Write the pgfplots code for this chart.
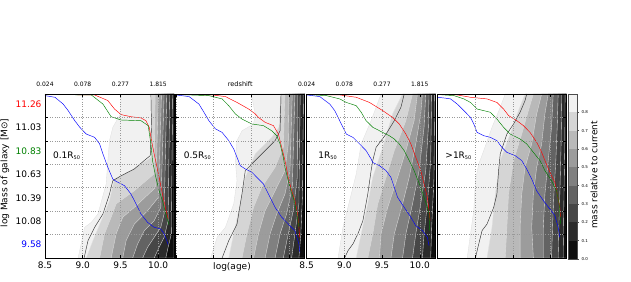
\documentclass[border=0pt]{standalone}
\usepackage{fontspec}
\setmainfont{DejaVu Sans}
\usepackage{pgfplots}
\pgfplotsset{compat=1.18}
\definecolor{g9}{gray}{0.945}
\definecolor{g8}{gray}{0.835}
\definecolor{g7}{gray}{0.725}
\definecolor{g6}{gray}{0.61}
\definecolor{g5}{gray}{0.50}
\definecolor{g4}{gray}{0.39}
\definecolor{g3}{gray}{0.28}
\definecolor{g2}{gray}{0.17}
\definecolor{g1}{gray}{0.055}
\definecolor{mplred}{rgb}{1,0,0}
\definecolor{mplgreen}{rgb}{0,0.5,0}
\definecolor{mplblue}{rgb}{0,0,1}
\pgfplotsset{
 panel/.style={
  scale only axis, width=129pt, height=164pt,
  xmin=8.5, xmax=10.21, ymin=0, ymax=7,
  axis on top, clip=false,
  xtick={8.5,9.0,9.5,10.0},
  ytick={1,2,3,4,5,6}, yticklabels={},
  grid=major,
  grid style={dotted, black!40, line width=0.5pt},
  tick align=inside, major tick length=3pt,
  tick style={black, line width=0.5pt},
  axis line style={line width=0.7pt},
  tick label style={font=\fontsize{9}{10}\selectfont},
  /pgf/number format/assume math mode=true,
 },
 band/.style={fill=#1, draw=black!12, line width=0.35pt},
 bk/.style={black!80, line width=0.45pt},
 rd/.style={mplred, line width=0.45pt},
 gr/.style={mplgreen, line width=0.45pt},
 bu/.style={mplblue, line width=0.45pt},
}
\newcommand{\toplab}{\fontsize{6}{7}\selectfont}
\newcommand{\plab}{\fontsize{9}{10}\selectfont}
\begin{document}
\begin{tikzpicture}
\useasboundingbox (0,0) rectangle (631pt,281pt);
% ---------------- Panel 1 ----------------
\begin{axis}[panel, at={(45pt,23pt)}, anchor=south west,
  xticklabels={8.5,9.0,9.5,10.0},
  extra y ticks={0.57,1.57,2.57,3.57,4.57,5.57,6.57},
  extra y tick labels={\textcolor{mplblue}{9.58},10.08,10.39,10.63,\textcolor{mplgreen}{10.83},11.03,\textcolor{mplred}{11.26}},
  extra y tick style={grid=none, major tick length=0pt}]
\addplot[band=g9] coordinates {(10.21,0) (8.939,0) (9.026,1.31) (9.114,1.52) (9.202,1.88) (9.311,3.16) (9.333,4.16) (9.355,5.01) (9.399,5.58) (9.5,6.15) (9.509,7) (10.21,7)} -- cycle;
\addplot[band=g8] coordinates {(10.21,0) (9.048,0) (9.136,0.74) (9.246,1.59) (9.355,2.45) (9.421,3.37) (9.640,3.73) (9.912,4.30) (9.912,7) (10.21,7)} -- cycle;
\addplot[band=g7] coordinates {(10.21,0) (9.224,0) (9.289,1.03) (9.377,1.74) (9.443,2.31) (9.684,2.87) (9.947,3.59) (9.961,7) (10.21,7)} -- cycle;
\addplot[band=g6] coordinates {(10.21,0) (9.377,0) (9.443,1.03) (9.531,1.74) (9.684,2.16) (9.969,3.02) (10.004,7) (10.21,7)} -- cycle;
\addplot[band=g5] coordinates {(10.21,0) (9.531,0) (9.575,0.74) (9.684,1.45) (9.860,2.02) (10.004,2.59) (10.044,7) (10.21,7)} -- cycle;
\addplot[band=g4] coordinates {(10.21,0) (9.662,0) (9.728,0.60) (9.816,1.17) (9.947,1.59) (10.035,2.16) (10.079,7) (10.21,7)} -- cycle;
\addplot[band=g3] coordinates {(10.21,0) (9.794,0) (9.860,0.46) (9.947,0.88) (10.035,1.31) (10.079,1.88) (10.114,7) (10.21,7)} -- cycle;
\addplot[band=g2] coordinates {(10.21,0) (9.947,0) (10.013,0.46) (10.079,0.88) (10.132,1.59) (10.154,7) (10.21,7)} -- cycle;
\addplot[band=g1] coordinates {(10.21,0) (10.101,0) (10.132,0.46) (10.175,1.03) (10.193,7) (10.21,7)} -- cycle;
\addplot[bk] coordinates {(9.018,0) (9.07,0.74) (9.158,1.31) (9.268,1.88) (9.355,2.73) (9.399,3.30) (9.509,3.51) (9.684,3.80) (9.816,4.16) (9.895,4.37) (9.912,5.58) (9.904,7)};
\addplot[bu] coordinates {(8.5,6.93) (8.632,6.86) (8.741,6.57) (8.807,6.29) (8.895,5.86) (8.961,5.58) (9.004,5.43) (9.048,5.29) (9.158,5.15) (9.224,4.87) (9.268,4.44) (9.333,3.87) (9.399,3.37) (9.443,3.27) (9.553,3.09) (9.640,2.73) (9.706,2.31) (9.772,1.88) (9.860,1.52) (9.947,1.31) (10.035,1.24) (10.079,1.03) (10.114,0.74) (10.132,0.57)};
\addplot[rd] coordinates {(8.5,6.98) (9.158,6.96) (9.333,6.72) (9.421,6.36) (9.509,6.12) (9.640,6.03) (9.772,5.98) (9.838,5.86) (9.882,5.58) (9.904,5.15) (9.947,4.44) (10.013,3.44) (10.057,2.73) (10.101,2.09) (10.132,1.67)};
\addplot[gr] coordinates {(8.5,6.98) (9.114,6.96) (9.268,6.57) (9.377,6.03) (9.509,5.89) (9.772,5.86) (9.868,5.65) (9.904,4.87) (9.925,4.16) (9.969,3.44) (10.013,2.87) (10.057,2.45) (10.101,1.88) (10.145,1.42)};
\node[anchor=west, font=\plab] at (axis cs:8.56,4.35) {0.1R\textsubscript{\fontsize{5}{5}\selectfont 50}};
\node[anchor=south, font=\toplab, yshift=3.5pt] at (axis cs:8.5,7) {0.024};
\node[anchor=south, font=\toplab, yshift=3.5pt] at (axis cs:9.0,7) {0.078};
\node[anchor=south, font=\toplab, yshift=3.5pt] at (axis cs:9.5,7) {0.277};
\node[anchor=south, font=\toplab, yshift=3.5pt] at (axis cs:10.0,7) {1.815};
\end{axis}
% ---------------- Panel 2 ----------------
\begin{axis}[panel, at={(175.8pt,23pt)}, anchor=south west, xticklabels={}]
\addplot[band=g9] coordinates {(10.21,0) (8.961,0) (9.048,0.88) (9.158,1.31) (9.268,2.31) (9.311,3.30) (9.289,4.16) (9.311,5.01) (9.377,5.43) (9.531,5.72) (9.553,6.15) (9.5,7) (10.21,7)} -- cycle;
\addplot[band=g8] coordinates {(10.21,0) (9.202,0) (9.268,1.03) (9.355,2.31) (9.421,3.44) (9.553,4.44) (9.772,5.15) (9.868,5.58) (9.895,7) (10.21,7)} -- cycle;
\addplot[band=g7] coordinates {(10.21,0) (9.377,0) (9.443,1.03) (9.531,2.16) (9.640,3.02) (9.816,3.87) (9.925,4.72) (9.947,7) (10.21,7)} -- cycle;
\addplot[band=g6] coordinates {(10.21,0) (9.531,0) (9.596,1.03) (9.684,2.02) (9.816,2.87) (9.947,3.73) (9.991,4.87) (10.0,7) (10.21,7)} -- cycle;
\addplot[band=g5] coordinates {(10.21,0) (9.684,0) (9.75,1.03) (9.838,1.88) (9.947,2.73) (10.013,3.73) (10.044,7) (10.21,7)} -- cycle;
\addplot[band=g4] coordinates {(10.21,0) (9.816,0) (9.882,1.03) (9.969,1.88) (10.044,3.02) (10.079,7) (10.21,7)} -- cycle;
\addplot[band=g3] coordinates {(10.21,0) (9.925,0) (9.991,1.03) (10.057,2.02) (10.110,3.44) (10.114,7) (10.21,7)} -- cycle;
\addplot[band=g2] coordinates {(10.21,0) (10.035,0) (10.079,1.03) (10.132,2.31) (10.149,7) (10.21,7)} -- cycle;
\addplot[band=g1] coordinates {(10.21,0) (10.132,0) (10.158,1.03) (10.180,2.73) (10.193,7) (10.21,7)} -- cycle;
\addplot[bk] coordinates {(9.114,0) (9.202,0.74) (9.311,1.45) (9.377,2.73) (9.421,3.73) (9.596,4.30) (9.816,5.01) (9.882,5.43) (9.895,7)};
\addplot[bu] coordinates {(8.5,6.96) (8.675,6.89) (8.807,6.57) (8.873,6.22) (8.939,5.86) (9.026,5.51) (9.114,5.36) (9.202,5.01) (9.268,4.65) (9.311,4.30) (9.355,3.94) (9.421,3.80) (9.509,3.66) (9.575,3.44) (9.662,3.16) (9.728,2.73) (9.816,2.16) (9.904,1.74) (10.013,1.38) (10.079,1.17) (10.132,0.60) (10.145,0.24)};
\addplot[rd] coordinates {(8.5,6.98) (8.982,6.96) (9.158,6.89) (9.311,6.64) (9.465,6.36) (9.553,6.15) (9.596,6.0) (9.684,5.79) (9.794,5.65) (9.860,5.29) (9.904,4.72) (9.947,4.16) (9.991,3.44) (10.035,2.87) (10.079,2.45) (10.114,1.88) (10.132,1.31) (10.140,0.88)};
\addplot[gr] coordinates {(8.5,6.98) (8.939,6.93) (9.114,6.79) (9.202,6.50) (9.289,6.15) (9.377,5.93) (9.509,5.72) (9.662,5.65) (9.772,5.43) (9.838,5.22) (9.882,4.87) (9.925,4.30) (9.947,3.87) (9.991,3.30) (10.026,2.87) (10.070,2.45) (10.105,1.88) (10.132,1.31)};
\node[anchor=west, font=\plab] at (axis cs:8.56,4.35) {0.5R\textsubscript{\fontsize{5}{5}\selectfont 50}};
\node[anchor=south, font=\fontsize{6.5}{7}\selectfont, yshift=3.5pt] at (axis cs:9.355,7) {redshift};
\end{axis}
% ---------------- Panel 3 ----------------
\begin{axis}[panel, at={(306.6pt,23pt)}, anchor=south west, xticklabels={8.5,9.0,9.5,10.0}]
\addplot[band=g9] coordinates {(10.21,0) (8.917,0) (8.982,1.31) (9.092,2.73) (9.158,3.59) (9.224,4.87) (9.355,5.86) (9.487,7) (10.21,7)} -- cycle;
\addplot[band=g8] coordinates {(10.21,0) (9.158,0) (9.224,1.03) (9.311,2.31) (9.377,3.44) (9.509,4.72) (9.640,6.15) (9.772,7) (10.21,7)} -- cycle;
\addplot[band=g7] coordinates {(10.21,0) (9.311,0) (9.377,1.03) (9.443,2.31) (9.553,3.44) (9.662,4.58) (9.816,5.86) (9.904,7) (10.21,7)} -- cycle;
\addplot[band=g6] coordinates {(10.21,0) (9.465,0) (9.487,1.03) (9.575,2.16) (9.706,3.44) (9.816,4.58) (9.925,5.86) (9.969,7) (10.21,7)} -- cycle;
\addplot[band=g5] coordinates {(10.21,0) (9.618,0) (9.662,1.03) (9.772,2.31) (9.860,3.44) (9.947,4.87) (10.013,6.15) (10.035,7) (10.21,7)} -- cycle;
\addplot[band=g4] coordinates {(10.21,0) (9.772,0) (9.816,1.03) (9.904,2.31) (9.991,3.73) (10.057,5.58) (10.079,7) (10.21,7)} -- cycle;
\addplot[band=g3] coordinates {(10.21,0) (9.904,0) (9.947,1.03) (10.013,2.31) (10.079,3.73) (10.114,5.58) (10.123,7) (10.21,7)} -- cycle;
\addplot[band=g2] coordinates {(10.21,0) (10.035,0) (10.057,1.03) (10.101,2.31) (10.145,4.16) (10.158,7) (10.21,7)} -- cycle;
\addplot[band=g1] coordinates {(10.21,0) (10.145,0) (10.158,1.31) (10.189,3.44) (10.197,7) (10.21,7)} -- cycle;
\addplot[bk] coordinates {(9.004,0) (9.048,0.31) (9.114,0.60) (9.180,1.03) (9.246,1.59) (9.311,2.73) (9.355,3.73) (9.377,4.16) (9.421,4.72) (9.553,5.29) (9.662,5.86) (9.75,6.43) (9.794,7)};
\addplot[bu] coordinates {(8.5,6.96) (8.675,6.89) (8.807,6.57) (8.873,6.29) (8.939,5.86) (8.982,5.58) (9.026,5.29) (9.114,5.15) (9.202,4.87) (9.289,4.58) (9.355,4.23) (9.377,4.08) (9.465,3.94) (9.553,3.73) (9.618,3.44) (9.662,3.02) (9.706,2.59) (9.794,2.16) (9.882,1.74) (9.947,1.38) (10.035,1.17) (10.101,0.88) (10.123,0.53)};
\addplot[rd] coordinates {(8.5,6.98) (8.939,6.96) (9.158,6.86) (9.333,6.64) (9.509,6.29) (9.640,6.0) (9.728,5.72) (9.816,5.29) (9.882,4.87) (9.947,4.30) (10.013,3.73) (10.057,3.16) (10.101,2.59) (10.123,2.02) (10.136,1.59)};
\addplot[gr] coordinates {(8.5,6.98) (8.763,6.93) (8.939,6.79) (9.026,6.64) (9.158,6.50) (9.224,6.22) (9.289,5.86) (9.377,5.58) (9.509,5.36) (9.596,5.22) (9.662,5.08) (9.728,4.87) (9.794,4.58) (9.860,4.16) (9.925,3.73) (9.969,3.37) (10.013,3.02) (10.057,2.59) (10.101,2.16) (10.123,1.88) (10.132,1.17)};
\node[anchor=west, font=\plab] at (axis cs:8.61,4.35) {1R\textsubscript{\fontsize{5}{5}\selectfont 50}};
\node[anchor=south, font=\toplab, yshift=3.5pt] at (axis cs:8.5,7) {0.024};
\node[anchor=south, font=\toplab, yshift=3.5pt] at (axis cs:9.0,7) {0.078};
\node[anchor=south, font=\toplab, yshift=3.5pt] at (axis cs:9.5,7) {0.277};
\node[anchor=south, font=\toplab, yshift=3.5pt] at (axis cs:10.0,7) {1.815};
\end{axis}
% ---------------- Panel 4 ----------------
\begin{axis}[panel, at={(437.4pt,23pt)}, anchor=south west, xticklabels={}]
\addplot[band=g9] coordinates {(10.21,0) (8.895,0) (8.939,1.03) (8.982,2.02) (9.004,3.30) (9.048,4.01) (9.114,4.58) (9.224,5.58) (9.333,6.43) (9.399,7) (10.21,7)} -- cycle;
\addplot[band=g8] coordinates {(10.21,0) (9.158,0) (9.224,1.31) (9.268,2.73) (9.333,4.16) (9.465,5.29) (9.575,6.29) (9.662,7) (10.21,7)} -- cycle;
\addplot[band=g7] coordinates {(10.21,0) (9.399,0) (9.421,1.31) (9.443,2.73) (9.509,4.16) (9.618,5.29) (9.706,6.29) (9.772,7) (10.21,7)} -- cycle;
\addplot[band=g6] coordinates {(10.21,0) (9.596,0) (9.596,1.31) (9.618,2.73) (9.662,3.87) (9.75,4.87) (9.816,6.15) (9.882,7) (10.21,7)} -- cycle;
\addplot[band=g5] coordinates {(10.21,0) (9.772,0) (9.75,1.31) (9.772,2.73) (9.816,3.87) (9.882,4.87) (9.925,6.15) (9.969,7) (10.21,7)} -- cycle;
\addplot[band=g4] coordinates {(10.21,0) (9.904,0) (9.904,1.31) (9.925,2.73) (9.969,4.16) (10.013,5.58) (10.035,7) (10.21,7)} -- cycle;
\addplot[band=g3] coordinates {(10.21,0) (10.013,0) (10.026,1.31) (10.044,2.73) (10.070,4.16) (10.088,5.58) (10.101,7) (10.21,7)} -- cycle;
\addplot[band=g2] coordinates {(10.21,0) (10.101,0) (10.110,1.31) (10.123,2.73) (10.140,4.87) (10.149,7) (10.21,7)} -- cycle;
\addplot[band=g1] coordinates {(10.21,0) (10.167,0) (10.175,2.02) (10.189,4.87) (10.193,7) (10.21,7)} -- cycle;
\addplot[bk] coordinates {(9.004,0) (9.048,0.60) (9.092,1.17) (9.158,1.45) (9.246,2.16) (9.289,2.73) (9.311,3.73) (9.333,4.44) (9.377,4.87) (9.421,5.29) (9.509,5.72) (9.596,6.22) (9.662,6.72) (9.684,7)};
\addplot[bu] coordinates {(8.5,6.86) (8.588,6.83) (8.675,6.79) (8.763,6.57) (8.851,6.29) (8.939,6.0) (8.982,5.72) (9.026,5.36) (9.114,5.22) (9.202,5.15) (9.289,5.01) (9.355,4.72) (9.421,4.51) (9.531,4.37) (9.618,4.16) (9.684,3.80) (9.75,3.37) (9.816,2.87) (9.904,2.45) (9.991,2.09) (10.057,1.81) (10.101,1.31) (10.123,0.88)};
\addplot[rd] coordinates {(8.5,6.98) (8.763,6.96) (8.939,6.86) (9.158,6.79) (9.289,6.64) (9.377,6.36) (9.443,6.08) (9.553,5.86) (9.640,5.65) (9.728,5.36) (9.816,4.94) (9.882,4.51) (9.925,4.16) (9.991,3.66) (10.057,3.23) (10.088,2.73) (10.123,2.16) (10.132,1.74)};
\addplot[gr] coordinates {(8.5,6.98) (8.719,6.93) (8.851,6.79) (8.939,6.64) (9.026,6.36) (9.114,6.29) (9.202,6.22) (9.289,5.93) (9.377,5.58) (9.465,5.29) (9.596,5.08) (9.684,4.87) (9.772,4.51) (9.860,4.16) (9.925,3.73) (10.013,3.30) (10.079,2.87) (10.114,2.31) (10.123,1.88) (10.132,1.45)};
\node[anchor=west, font=\plab] at (axis cs:8.56,4.35) {>1R\textsubscript{\fontsize{5}{5}\selectfont 50}};
\end{axis}
% ---------------- Colorbar ----------------
\begin{axis}[scale only axis, at={(568pt,22pt)}, anchor=south west,
  width=9pt, height=165pt, xmin=0, xmax=1, ymin=0, ymax=0.9,
  axis on top, xtick=\empty,
  ytick={0,0.1,0.2,0.3,0.4,0.5,0.6,0.7,0.8},
  yticklabels={0.0,0.1,0.2,0.3,0.4,0.5,0.6,0.7,0.8},
  ytick pos=right, yticklabel pos=right,
  tick align=outside, major tick length=2pt,
  tick style={black!70, line width=0.4pt},
  yticklabel style={font=\fontsize{4}{5}\selectfont, xshift=-1pt},
  axis line style={black!70, line width=0.6pt}]
\addplot[fill=g1, draw=none] coordinates {(0,0) (1,0) (1,0.1) (0,0.1)} -- cycle;
\addplot[fill=g2, draw=none] coordinates {(0,0.1) (1,0.1) (1,0.2) (0,0.2)} -- cycle;
\addplot[fill=g3, draw=none] coordinates {(0,0.2) (1,0.2) (1,0.3) (0,0.3)} -- cycle;
\addplot[fill=g4, draw=none] coordinates {(0,0.3) (1,0.3) (1,0.4) (0,0.4)} -- cycle;
\addplot[fill=g5, draw=none] coordinates {(0,0.4) (1,0.4) (1,0.5) (0,0.5)} -- cycle;
\addplot[fill=g6, draw=none] coordinates {(0,0.5) (1,0.5) (1,0.6) (0,0.6)} -- cycle;
\addplot[fill=g7, draw=none] coordinates {(0,0.6) (1,0.6) (1,0.7) (0,0.7)} -- cycle;
\addplot[fill=g8, draw=none] coordinates {(0,0.7) (1,0.7) (1,0.8) (0,0.8)} -- cycle;
\addplot[fill=g9, draw=none] coordinates {(0,0.8) (1,0.8) (1,0.9) (0,0.9)} -- cycle;
\end{axis}
\node[rotate=90, font=\fontsize{9}{10}\selectfont] at (594pt,106pt) {mass relative to current};
\node[rotate=90, font=\fontsize{9}{10}\selectfont] at (5pt,108pt) {log Mass of galaxy [M⊙]};
\node[font=\fontsize{9}{10}\selectfont] at (232pt,14pt) {log(age)};
\end{tikzpicture}
\end{document}
